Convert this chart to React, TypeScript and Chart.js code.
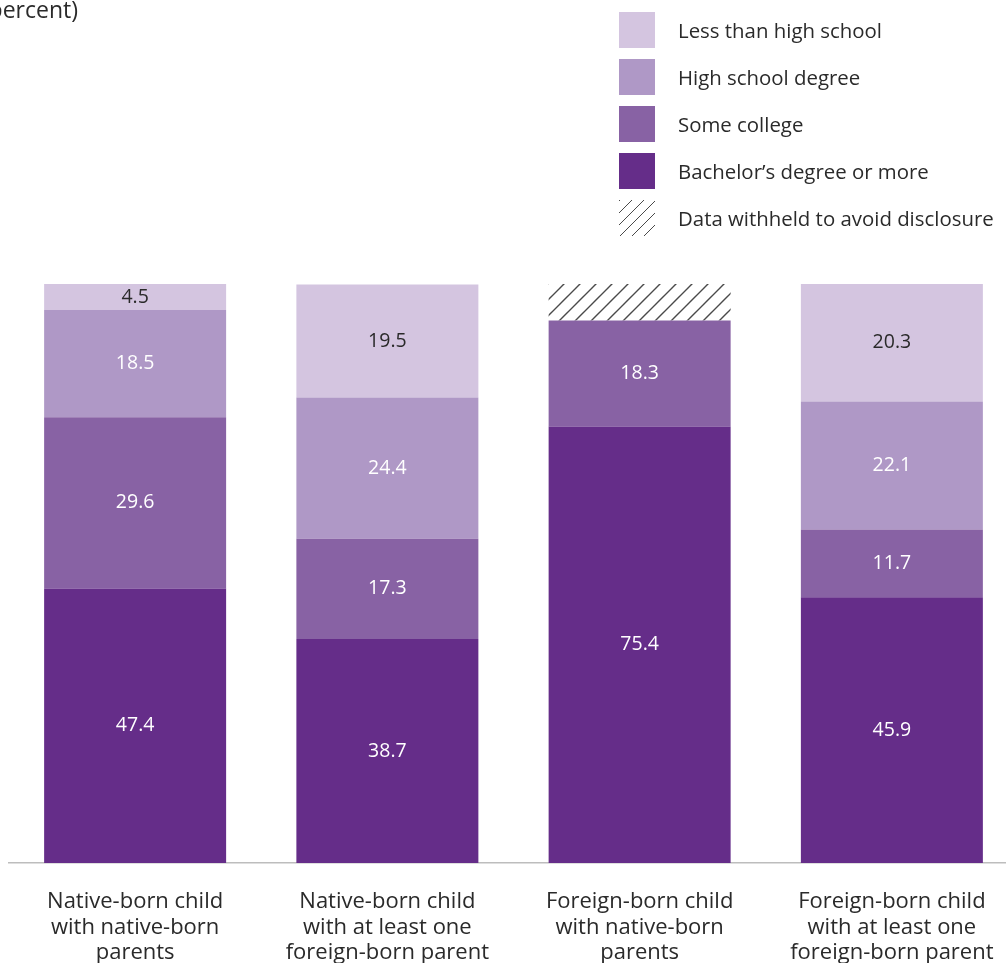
import React, { useEffect, useRef } from "react";
import { Chart, registerables } from "chart.js";

Chart.register(...registerables);

const categories: string[][] = [
  ["Native-born child", "with native-born", "parents"],
  ["Native-born child", "with at least one", "foreign-born parent"],
  ["Foreign-born child", "with native-born", "parents"],
  ["Foreign-born child", "with at least one", "foreign-born parent"],
];

const bachelorOrMore: (number | null)[] = [47.4, 38.7, 75.4, 45.9];
const someCollege: (number | null)[] = [29.6, 17.3, 18.3, 11.7];
const highSchool: (number | null)[] = [18.5, 24.4, null, 22.1];
const lessThanHighSchool: (number | null)[] = [4.5, 19.5, null, 20.3];
const withheld: (number | null)[] = [null, null, 6.3, null];

const seriesNames = [
  "Less than high school",
  "High school degree",
  "Some college",
  "Bachelor\u2019s degree or more",
  "Data withheld to avoid disclosure",
];

const COLORS = {
  less: "#D4C5E0",
  hs: "#AF98C6",
  some: "#8862A4",
  ba: "#652D89",
};

const FONT = "'Open Sans', sans-serif";
const TEXT = "#2a2a2a";

function makeHatch(): CanvasPattern | string {
  const c = document.createElement("canvas");
  const s = 16;
  c.width = s;
  c.height = s;
  const ctx = c.getContext("2d");
  if (!ctx) return "#ffffff";
  ctx.fillStyle = "#ffffff";
  ctx.fillRect(0, 0, s, s);
  ctx.strokeStyle = "#4a4a4a";
  ctx.lineWidth = 1.4;
  ctx.beginPath();
  ctx.moveTo(-2, s + 2);
  ctx.lineTo(s + 2, -2);
  ctx.moveTo(-2, 2);
  ctx.lineTo(2, -2);
  ctx.moveTo(s - 2, s + 2);
  ctx.lineTo(s + 2, s - 2);
  ctx.stroke();
  const p = ctx.createPattern(c, "repeat");
  return p || "#ffffff";
}

const valueLabels = {
  id: "valueLabels",
  afterDatasetsDraw(chart: any) {
    const ctx = chart.ctx;
    ctx.save();
    ctx.font = `19.5px ${FONT}`;
    ctx.textAlign = "center";
    ctx.textBaseline = "middle";
    chart.data.datasets.forEach((ds: any, di: number) => {
      if (!ds.labelColor) return;
      const meta = chart.getDatasetMeta(di);
      meta.data.forEach((el: any, i: number) => {
        const v = ds.data[i];
        if (v === null || v === undefined) return;
        const { x, y, base } = el.getProps(["x", "y", "base"], true);
        ctx.fillStyle = ds.labelColor;
        ctx.fillText(v.toFixed(1), x, (y + base) / 2);
      });
    });
    ctx.restore();
  },
};

function ChartCanvas() {
  const ref = useRef<HTMLCanvasElement | null>(null);
  useEffect(() => {
    if (!ref.current) return;
    const hatch = makeHatch();
    const chart = new Chart(ref.current, {
      type: "bar",
      data: {
        labels: categories,
        datasets: [
          { label: seriesNames[3], data: bachelorOrMore, backgroundColor: COLORS.ba, labelColor: "#ffffff" } as any,
          { label: seriesNames[2], data: someCollege, backgroundColor: COLORS.some, labelColor: "#ffffff" } as any,
          { label: seriesNames[1], data: highSchool, backgroundColor: COLORS.hs, labelColor: "#ffffff" } as any,
          { label: seriesNames[0], data: lessThanHighSchool, backgroundColor: COLORS.less, labelColor: TEXT } as any,
          { label: seriesNames[4], data: withheld, backgroundColor: hatch } as any,
        ],
      },
      options: {
        animation: false,
        responsive: false,
        maintainAspectRatio: false,
        layout: { padding: { top: 284, left: 9, right: 2, bottom: 0 } },
        datasets: {
          bar: { barPercentage: 0.7215, categoryPercentage: 1, borderWidth: 0 },
        },
        plugins: {
          legend: { display: false },
          tooltip: { enabled: false },
          title: { display: false },
        },
        scales: {
          x: {
            stacked: true,
            grid: { display: false, drawTicks: false },
            border: { display: true, color: "#bdbdbd", width: 1.5 },
            afterFit: (scale: any) => {
              scale.height = 100;
            },
            ticks: {
              color: TEXT,
              font: { family: FONT, size: 22, lineHeight: 1.16 },
              padding: 26,
              maxRotation: 0,
              autoSkip: false,
            },
          },
          y: {
            stacked: true,
            display: false,
            min: 0,
            max: 100,
          },
        },
      },
      plugins: [valueLabels],
    });
    return () => chart.destroy();
  }, []);
  return <canvas ref={ref} width={1020} height={963} style={{ display: "block", width: 1020, height: 963 }} />;
}

const legendItems = [
  { name: seriesNames[0], color: COLORS.less },
  { name: seriesNames[1], color: COLORS.hs },
  { name: seriesNames[2], color: COLORS.some },
  { name: seriesNames[3], color: COLORS.ba },
  { name: seriesNames[4], color: null },
];

export default function App() {
  return (
    <div
      style={{
        position: "absolute",
        left: 0,
        top: 0,
        width: 1006,
        height: 963,
        overflow: "hidden",
        background: "#ffffff",
        fontFamily: FONT,
        color: TEXT,
      }}
    >
      <div style={{ position: "absolute", left: 0, top: 0 }}>
        <ChartCanvas />
      </div>
      <div
        style={{
          position: "absolute",
          left: -200,
          width: 278,
          top: -3,
          height: 24,
          lineHeight: "24px",
          fontSize: 23,
          textAlign: "right",
          whiteSpace: "nowrap",
        }}
      >
        (percent)
      </div>
      {legendItems.map((it, i) => (
        <div
          key={it.name}
          style={{
            position: "absolute",
            left: 619,
            top: 12 + 47 * i,
            height: 36,
            display: "flex",
            alignItems: "center",
            whiteSpace: "nowrap",
          }}
        >
          <div
            style={{
              width: 36,
              height: 36,
              background: it.color
                ? it.color
                : "repeating-linear-gradient(135deg, #4a4a4a 0px, #4a4a4a 1.2px, transparent 1.2px, transparent 8.5px)",
            }}
          />
          <span style={{ marginLeft: 23, fontSize: 20.4, lineHeight: "35px" }}>{it.name}</span>
        </div>
      ))}
    </div>
  );
}
